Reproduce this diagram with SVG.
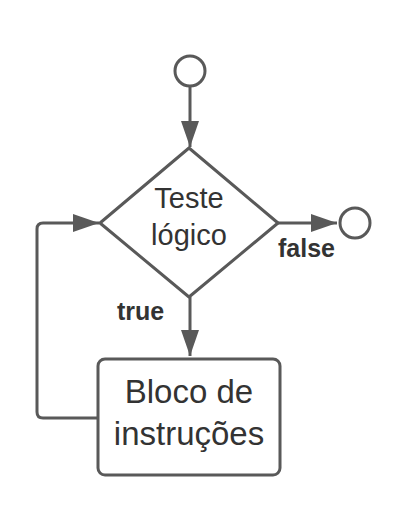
<svg xmlns="http://www.w3.org/2000/svg" width="420" height="531" viewBox="0 0 420 531">
<style>
.s{fill:none;stroke:#595959;stroke-width:3;stroke-linejoin:round}
.n{fill:#ffffff;stroke:#595959;stroke-width:3;stroke-linejoin:round}
.t{font-family:"Liberation Sans",Arial,sans-serif;fill:#333333;text-anchor:middle}
.b{font-family:"Liberation Sans",Arial,sans-serif;fill:#333333;font-weight:bold;font-size:25px}
</style>
<defs>
<marker id="ah" markerUnits="userSpaceOnUse" markerWidth="28" markerHeight="20" refX="26" refY="9" orient="auto">
<path d="M0,0 L26,9 L0,18 Z" fill="#595959"/>
</marker>
</defs>
<rect width="420" height="531" fill="#ffffff"/>
<g id="connectors">
<path class="s" d="M190,86 L190,147" marker-end="url(#ah)"/>
<path class="s" d="M278,223 L337,223" marker-end="url(#ah)"/>
<path class="s" d="M190,297 L190,356" marker-end="url(#ah)"/>
<path class="s" d="M98,418 L43,418 Q37,418 37,412 L37,229 Q37,223 43,223 L99,223" marker-end="url(#ah)"/>
<text class="b" x="278" y="257">false</text>
<text class="b" x="117" y="320">true</text>
</g>
<g id="start">
<circle class="n" cx="190" cy="71" r="15"/>
</g>
<g id="end">
<circle class="n" cx="355" cy="223" r="15"/>
</g>
<g id="decision">
<path class="n" d="M189,148 L278,223 L189,297 L100,223 Z"/>
<text class="t" font-size="29" x="189" y="208">Teste</text>
<text class="t" font-size="29" x="189" y="245">lógico</text>
</g>
<g id="block">
<rect class="n" x="98" y="359" width="182" height="116" rx="7"/>
<text class="t" font-size="33" x="189" y="403">Bloco de</text>
<text class="t" font-size="33" x="189" y="445">instruções</text>
</g>
</svg>
